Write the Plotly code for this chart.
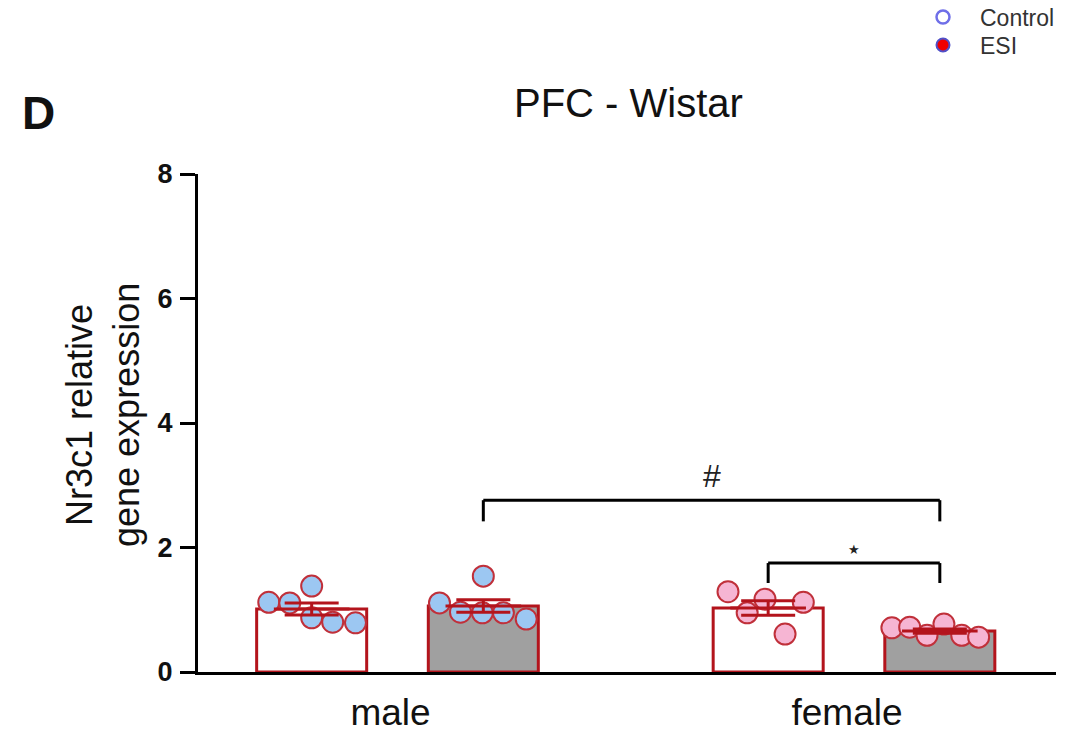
import numpy as np
import plotly.graph_objects as go

# ---- data -------------------------------------------------------------
sexes = ["male", "female"]
groups = ["Control", "ESI"]

male_control = [1.12, 1.11, 1.38, 0.87, 0.80, 0.79]
male_esi = [1.11, 1.54, 0.96, 0.95, 0.95, 0.85]
female_control = [1.29, 1.17, 0.95, 1.12, 0.61]
female_esi = [0.71, 0.72, 0.59, 0.77, 0.59, 0.56]

y_ticks = [0, 2, 4, 6, 8]

# significance brackets: (left bar, right bar, bracket level, drop level, label)
brackets = [
    (("male", "ESI"), ("female", "ESI"), 2.76, 2.42, "#"),
    (("female", "Control"), ("female", "ESI"), 1.75, 1.43, "★"),
]

# ---- layout constants --------------------------------------------------
W, H = 1088, 733
ML, MR, MT, MB = 198, 32, 174, 61
X_RANGE = [-0.437, 1.4425]
DODGE = 0.188
BAR_W = 0.241
# horizontal swarm offsets of the dots inside each bar (x units)
swarm = {
    ("male", "Control"): [-0.094, -0.048, 0.0, 0.0, 0.046, 0.096],
    ("male", "ESI"): [-0.096, 0.0, -0.050, -0.002, 0.044, 0.094],
    ("female", "Control"): [-0.088, -0.007, -0.046, 0.077, 0.037],
    ("female", "ESI"): [-0.105, -0.066, -0.028, 0.009, 0.048, 0.085],
}

DARK_RED = "#B3141C"
FONT = "Liberation Sans, Arial, sans-serif"
dot_fill = {"male": "#9CC7F2", "female": "#F6B5D3"}
bar_fill = {"Control": "#FFFFFF", "ESI": "#A0A0A0"}

values = {
    ("male", "Control"): male_control,
    ("male", "ESI"): male_esi,
    ("female", "Control"): female_control,
    ("female", "ESI"): female_esi,
}


def xpos(sex, grp):
    return sexes.index(sex) + (-DODGE if grp == "Control" else DODGE)


def px_to_paper(px, py):
    return (px - ML) / (W - ML - MR), 1 - (py - MT) / (H - MT - MB)


fig = go.Figure()

# bars (mean)
for (sex, grp), v in values.items():
    arr = np.asarray(v)
    fig.add_trace(go.Bar(
        x=[xpos(sex, grp)], y=[arr.mean()], width=BAR_W,
        marker=dict(color=bar_fill[grp], line=dict(color=DARK_RED, width=3)),
        showlegend=False, hoverinfo="skip",
    ))

# individual animals
for (sex, grp), v in values.items():
    x0 = xpos(sex, grp)
    fig.add_trace(go.Scatter(
        x=[x0 + d for d in swarm[(sex, grp)]], y=v, mode="markers",
        marker=dict(size=21, color=dot_fill[sex],
                    line=dict(color="#C0303A", width=2)),
        showlegend=False, cliponaxis=False,
    ))

# mean line with SEM whiskers
for (sex, grp), v in values.items():
    arr = np.asarray(v)
    sem = arr.std(ddof=1) / np.sqrt(arr.size)
    fig.add_trace(go.Scatter(
        x=[xpos(sex, grp)], y=[arr.mean()], mode="markers",
        marker=dict(size=54, color=DARK_RED, symbol="line-ew",
                    line=dict(color=DARK_RED, width=3)),
        error_y=dict(type="data", array=[sem], visible=True,
                     color=DARK_RED, thickness=3, width=27),
        showlegend=False,
    ))

# legend entries, each in its own legend box
fig.add_trace(go.Scatter(
    x=[None], y=[None], mode="markers", name="Control", legend="legend",
    marker=dict(size=13, color="white", line=dict(color="#6F6FE8", width=2.5)),
))
fig.add_trace(go.Scatter(
    x=[None], y=[None], mode="markers", name="ESI", legend="legend2",
    marker=dict(size=13, color="#F00000", line=dict(color="#5050C8", width=2)),
))

# significance brackets
for left, right, top, drop, label in brackets:
    xl, xr = xpos(*left), xpos(*right)
    for x_a, y_a, x_b, y_b in [(xl, drop, xl, top), (xl, top, xr, top), (xr, top, xr, drop)]:
        fig.add_shape(type="line", x0=x_a, y0=y_a, x1=x_b, y1=y_b,
                      line=dict(color="black", width=3))
    fig.add_annotation(x=(xl + xr) / 2, y=top, text=label, showarrow=False,
                       yanchor="bottom", yshift=4,
                       font=dict(family=FONT, size=32 if label == "#" else 13,
                                 color="#222222"))

tx, ty = px_to_paper(628, 103)
fig.add_annotation(x=tx, y=ty, xref="paper", yref="paper", text="PFC - Wistar",
                   xanchor="center", yanchor="middle", showarrow=False,
                   font=dict(family=FONT, size=40, color="#111"))
dx, dy = px_to_paper(38, 113)
fig.add_annotation(x=dx, y=dy, xref="paper", yref="paper", text="<b>D</b>",
                   xanchor="center", yanchor="middle", showarrow=False,
                   font=dict(family=FONT, size=46, color="#111"))
ax_, ay_ = px_to_paper(103, 415)
fig.add_annotation(x=ax_, y=ay_, xref="paper", yref="paper",
                   text="Nr3c1 relative<br>gene expression", textangle=-90,
                   xanchor="center", yanchor="middle", showarrow=False,
                   font=dict(family=FONT, size=36, color="#111"))

legend_style = dict(xanchor="left", yanchor="middle", itemwidth=64,
                    font=dict(family=FONT, size=23, color="#333"),
                    bgcolor="rgba(0,0,0,0)")
l1x, l1y = px_to_paper(906, 17)
l2x, l2y = px_to_paper(906, 45)

fig.update_layout(
    width=W, height=H,
    margin=dict(l=ML, r=MR, t=MT, b=MB, autoexpand=False),
    plot_bgcolor="white", paper_bgcolor="white",
    barmode="overlay",
    showlegend=True,
    legend=dict(x=l1x, y=l1y, **legend_style),
    legend2=dict(x=l2x, y=l2y, **legend_style),
    xaxis=dict(range=X_RANGE, tickmode="array", tickvals=[0, 1], ticktext=sexes,
               showline=True, linecolor="black", linewidth=3, ticks="",
               showgrid=False, zeroline=False, ticklabelstandoff=6,
               ticklabelshift=-7, automargin=False,
               tickfont=dict(family=FONT, size=37, color="#111")),
    yaxis=dict(range=[0, 8], tickmode="array", tickvals=y_ticks,
               showline=True, linecolor="black", linewidth=3,
               ticks="outside", ticklen=15, tickwidth=3, tickcolor="black",
               showgrid=False, zeroline=False, ticklabelstandoff=2,
               automargin=False,
               tickfont=dict(family=FONT, size=27, color="#111", weight="bold")),
)

fig.write_html("out.html")
